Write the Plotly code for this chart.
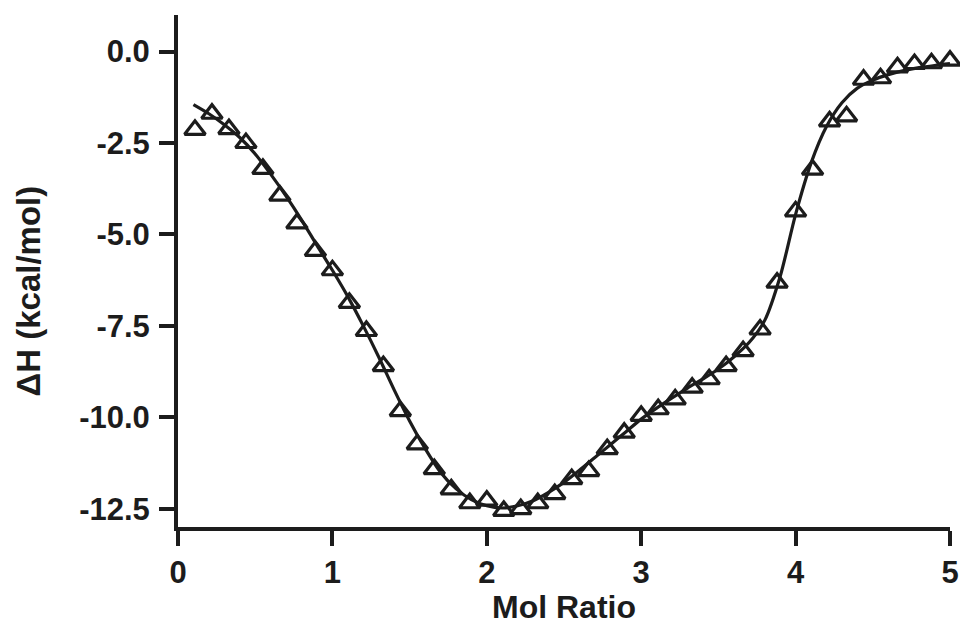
import plotly.graph_objects as go

# Measured titration points (Mol Ratio vs ΔH)
mol_ratio = [0.11, 0.22, 0.33, 0.44, 0.55, 0.66, 0.77, 0.89, 1.00, 1.11,
             1.22, 1.33, 1.44, 1.55, 1.66, 1.77, 1.89, 2.00, 2.11, 2.22,
             2.33, 2.44, 2.55, 2.66, 2.78, 2.89, 3.00, 3.11, 3.22, 3.33,
             3.44, 3.55, 3.66, 3.77, 3.88, 4.00, 4.11, 4.22, 4.33, 4.44,
             4.55, 4.66, 4.77, 4.88, 5.00]
delta_h = [-2.14, -1.70, -2.12, -2.50, -3.21, -3.94, -4.70, -5.45, -5.98, -6.87,
           -7.64, -8.60, -9.83, -10.74, -11.42, -11.97, -12.35, -12.28, -12.56, -12.51,
           -12.35, -12.10, -11.69, -11.47, -10.87, -10.42, -9.96, -9.78, -9.51, -9.19,
           -8.96, -8.60, -8.19, -7.60, -6.32, -4.37, -3.23, -1.91, -1.77, -0.77,
           -0.73, -0.43, -0.34, -0.32, -0.25]

# Fitted curve
fit_x = [0.10, 0.20, 0.30, 0.40, 0.50, 0.60, 0.70, 0.80, 0.90, 1.00,
         1.10, 1.20, 1.30, 1.40, 1.50, 1.60, 1.70, 1.80, 1.90, 2.00,
         2.10, 2.20, 2.30, 2.40, 2.50, 2.60, 2.70, 2.80, 2.90, 3.00,
         3.10, 3.20, 3.30, 3.40, 3.50, 3.60, 3.70, 3.80, 3.90, 4.00,
         4.10, 4.20, 4.30, 4.40, 4.50, 4.60, 4.70, 4.80, 4.90, 5.00]
fit_y = [-1.45, -1.70, -2.00, -2.35, -2.80, -3.35, -3.95, -4.60, -5.30, -5.98,
         -6.70, -7.50, -8.35, -9.25, -10.10, -10.85, -11.50, -11.95, -12.25, -12.42,
         -12.48, -12.42, -12.28, -12.05, -11.78, -11.45, -11.10, -10.75, -10.40, -10.05,
         -9.75, -9.47, -9.20, -8.95, -8.68, -8.35, -7.95, -7.35, -6.15, -4.45,
         -3.05, -2.05, -1.40, -1.00, -0.78, -0.63, -0.52, -0.44, -0.38, -0.33]

x_ticks = [0, 1, 2, 3, 4, 5]
y_ticks = [0.0, -2.5, -5.0, -7.5, -10.0, -12.5]
y_tick_text = ["0.0", "-2.5", "-5.0", "-7.5", "-10.0", "-12.5"]
x_title = "Mol Ratio"
y_title = "ΔH (kcal/mol)"

INK = "#1c1c1c"
FONT = "Liberation Sans, Arial, Helvetica, sans-serif"

fig = go.Figure()
fig.add_trace(go.Scatter(
    x=fit_x, y=fit_y, mode="lines",
    line=dict(color=INK, width=3.2, shape="spline", smoothing=0.8),
    hoverinfo="skip", showlegend=False,
))
fig.add_trace(go.Scatter(
    x=mol_ratio, y=delta_h, mode="markers", cliponaxis=False,
    marker=dict(symbol="triangle-up-open", size=18, color=INK,
                line=dict(color=INK, width=3.2)),
    showlegend=False,
))

fig.update_layout(
    width=960, height=626,
    margin=dict(l=178, r=10, t=15, b=99),
    paper_bgcolor="white", plot_bgcolor="white",
    font=dict(family=FONT, color=INK),
)
fig.update_xaxes(
    range=[0, 5], tickvals=x_ticks, ticktext=[str(v) for v in x_ticks],
    showline=True, linecolor=INK, linewidth=4, mirror=False,
    ticks="outside", ticklen=15, tickwidth=4, tickcolor=INK,
    showgrid=False, zeroline=False,
    tickfont=dict(family=FONT, size=31, color=INK, weight="bold"),
    automargin=False,
)
fig.update_yaxes(
    range=[-13, 1], tickvals=y_ticks, ticktext=y_tick_text,
    showline=True, linecolor=INK, linewidth=4, mirror=False,
    ticks="outside", ticklen=15, tickwidth=4, tickcolor=INK,
    showgrid=False, zeroline=False, ticklabelstandoff=3,
    tickfont=dict(family=FONT, size=31, color=INK, weight="bold"),
    automargin=False,
)
fig.add_annotation(
    text=x_title, showarrow=False, borderpad=0,
    xref="x", x=2.5, xanchor="center",
    yref="paper", y=0, yanchor="middle", yshift=-80,
    font=dict(family=FONT, size=32, color=INK, weight="bold"),
)
fig.add_annotation(
    text=y_title, textangle=-90, showarrow=False,
    xref="paper", x=0, xanchor="center", xshift=-150,
    yref="y", y=-6.56, yanchor="middle",
    font=dict(family=FONT, size=33, color=INK, weight="bold"),
)

fig.write_html("out.html")
